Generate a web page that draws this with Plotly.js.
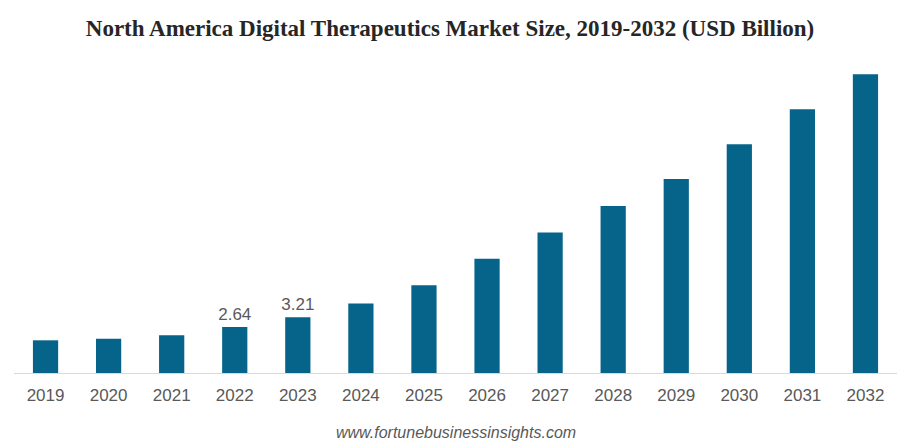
<!DOCTYPE html>
<html>
<head>
<meta charset="utf-8">
<script src="https://cdn.plot.ly/plotly-3.0.1.min.js"></script>
<style>html,body{margin:0;padding:0;background:#fff}#chart{width:900px;height:448px}</style>
</head>
<body>
<div id="chart"></div>
<script>
const years = ['2019','2020','2021','2022','2023','2024','2025','2026','2027','2028','2029','2030','2031','2032'];
const values = [1.88, 1.97, 2.17, 2.64, 3.21, 4.00, 5.04, 6.57, 8.08, 9.60, 11.15, 13.16, 15.17, 17.18];
const labelledYears = ['2022', '2023'];
const labels = years.map((y, i) => labelledYears.includes(y) ? values[i].toFixed(2) : '');

const trace = {
  type: 'bar',
  x: years,
  y: values,
  text: labels,
  textposition: 'outside',
  constraintext: 'none',
  textfont: {family: 'Liberation Sans, Arial, sans-serif', size: 17, color: '#595959'},
  cliponaxis: false,
  marker: {color: '#06648B'},
  width: 0.4,
  hoverinfo: 'x+y'
};

const layout = {
  width: 900, height: 448,
  margin: {l: 14, r: 3, t: 60, b: 75},
  paper_bgcolor: '#ffffff', plot_bgcolor: '#ffffff',
  title: {
    text: '<b>North America Digital Therapeutics Market Size, 2019-2032 (USD Billion)</b>',
    font: {family: 'Liberation Serif, Times New Roman, serif', size: 23, color: '#262626'},
    x: 0.5, xanchor: 'center', y: 0.937, yanchor: 'middle'
  },
  xaxis: {
    type: 'category',
    showline: true, linecolor: '#d9d9d9', linewidth: 1,
    ticks: '', showgrid: false,
    tickfont: {family: 'Liberation Sans, Arial, sans-serif', size: 17, color: '#595959'},
    ticklabelstandoff: 7
  },
  yaxis: {range: [0, 18], visible: false, showgrid: false, zeroline: false},
  showlegend: false,
  annotations: [{
    text: '<i>www.fortunebusinessinsights.com</i>',
    xref: 'paper', yref: 'paper', x: 0.5, y: 0, xanchor: 'center', yanchor: 'middle',
    yshift: -59, xshift: 0, showarrow: false,
    font: {family: 'Liberation Sans, Arial, sans-serif', size: 16, color: '#595959'}
  }],
  bargap: 0.6
};

Plotly.newPlot('chart', [trace], layout, {displayModeBar: false, staticPlot: true});
</script>
</body>
</html>
